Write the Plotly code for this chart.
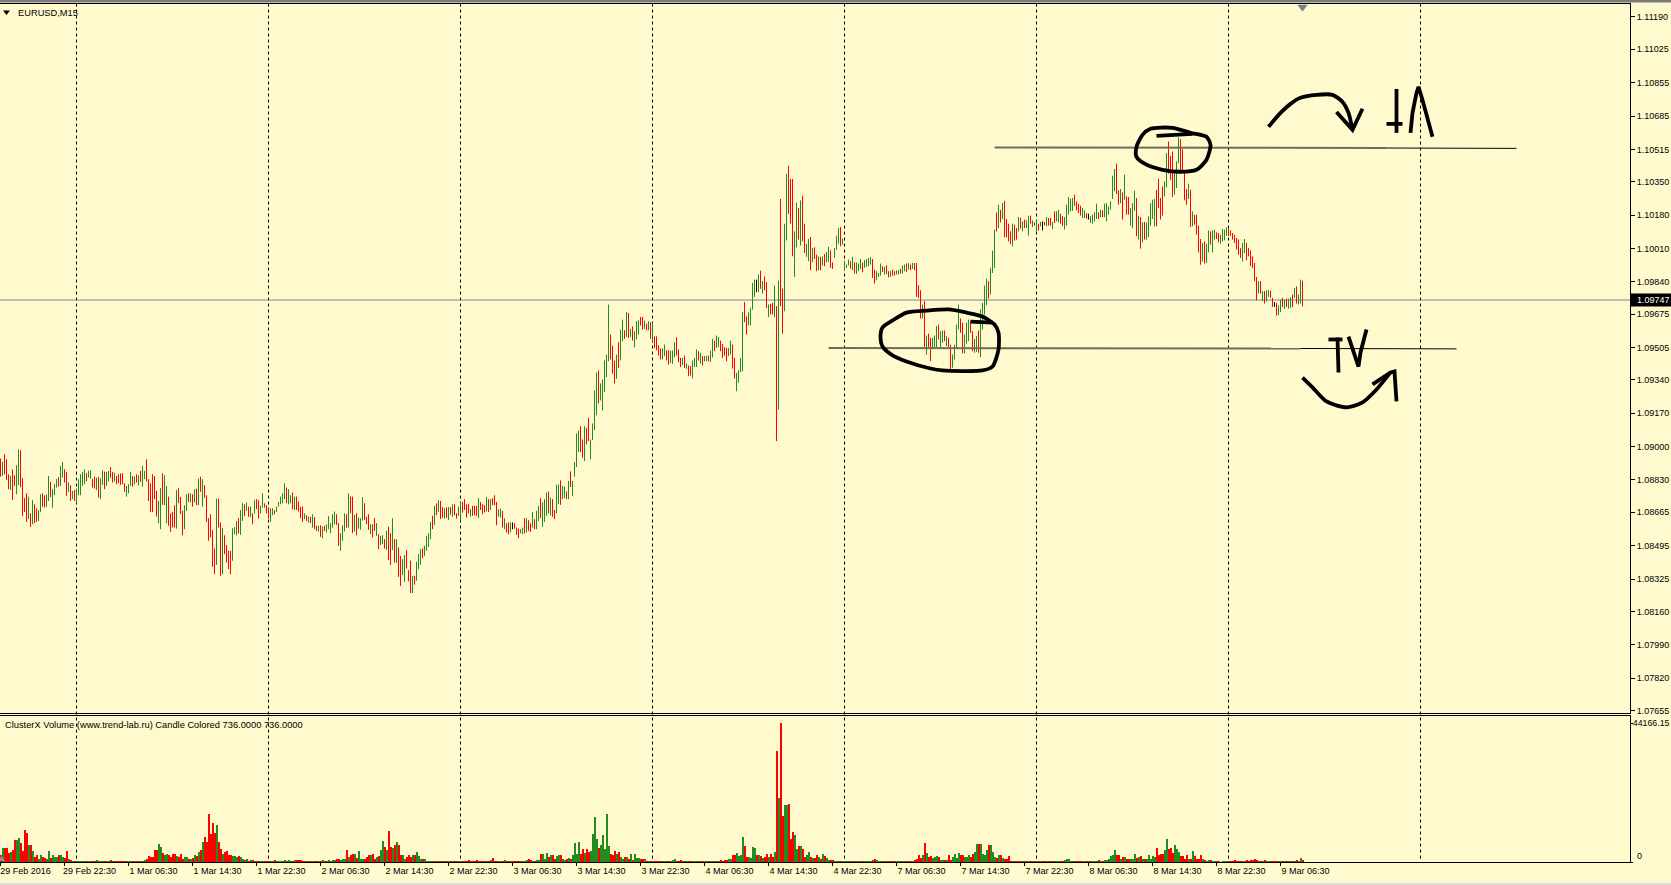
import plotly.graph_objects as go

# Bar highs / lows, in points above 1.07000 (EURUSD M15)
high_pts = [
1939,1922,1961,1935,1859,1850,1884,1854,1905,1986,1981,1839,1737,1762,1745,1660,1727,1706,1686,1676,
1757,1762,1752,1757,1850,1820,1783,1808,1834,1844,1901,1922,1884,1871,1817,1803,1774,1779,1786,1834,
1859,1871,1884,1864,1876,1879,1834,1847,1842,1845,1837,1879,1873,1871,1876,1896,1871,1867,1850,1859,
1864,1864,1813,1800,1808,1871,1850,1847,1859,1854,1876,1901,1876,1935,1834,1813,1859,1850,1774,1723,
1788,1864,1854,1800,1745,1660,1667,1701,1779,1788,1744,1672,1701,1757,1762,1762,1757,1783,1786,1837,
1847,1834,1803,1752,1635,1655,1574,1481,1735,1735,1613,1584,1548,1498,1469,1469,1584,1589,1620,1635,
1677,1711,1706,1715,1694,1694,1660,1727,1732,1727,1698,1762,1711,1701,1689,1686,1686,1676,1694,1718,
1745,1762,1813,1791,1783,1752,1766,1745,1745,1720,1693,1694,1660,1650,1643,1642,1655,1640,1596,1596,
1599,1593,1596,1604,1645,1610,1655,1669,1655,1610,1559,1599,1660,1655,1762,1745,1745,1652,1660,1638,
1635,1742,1711,1643,1655,1604,1604,1635,1610,1554,1545,1548,1528,1570,1591,1559,1635,1528,1528,1486,
1443,1426,1447,1472,1370,1418,1341,1341,1413,1452,1477,1481,1494,1545,1559,1616,1647,1698,1711,1727,
1723,1691,1686,1691,1692,1691,1706,1706,1660,1694,1723,1718,1732,1706,1706,1681,1698,1698,1698,1737,
1718,1706,1701,1743,1732,1732,1737,1752,1718,1681,1684,1672,1635,1609,1613,1613,1613,1609,1587,1582,
1579,1587,1635,1635,1625,1609,1667,1630,1672,1698,1737,1715,1732,1765,1771,1740,1732,1677,1805,1808,
1828,1799,1796,1771,1825,1874,1825,1922,2067,2082,2104,2036,2104,2096,2147,2036,2118,2286,2378,2388,
2322,2342,2439,2469,2724,2571,2515,2439,2469,2532,2596,2647,2593,2686,2681,2600,2613,2588,2639,2644,
2661,2661,2642,2627,2639,2634,2630,2562,2562,2517,2500,2500,2520,2491,2491,2489,2489,2532,2557,2495,
2452,2452,2464,2423,2413,2410,2439,2452,2495,2486,2478,2461,2461,2464,2464,2489,2549,2540,2566,2559,
2540,2523,2506,2503,2503,2540,2520,2452,2376,2389,2452,2685,2737,2664,2685,2708,2834,2851,2851,2877,
2897,2843,2868,2838,2724,2727,2732,2821,2716,2846,3262,2805,3136,3391,3432,3364,3364,3097,3242,3216,
3255,3279,3136,3034,3058,3068,3012,3016,2979,2970,2967,2970,2982,2992,3018,3000,2939,3012,3075,3114,
3119,3060,2948,2928,2953,2945,2967,2939,2939,2933,2956,2939,2950,2956,2962,2967,2956,2902,2894,2885,
2933,2919,2916,2924,2894,2894,2902,2894,2899,2899,2906,2923,2928,2933,2936,2928,2936,2936,2936,2822,
2797,2724,2741,2566,2576,2554,2554,2566,2614,2622,2588,2592,2592,2563,2554,2520,2469,2520,2622,2724,
2653,2631,2571,2631,2648,2639,2588,2549,2563,2592,2700,2732,2821,2856,2843,2911,2999,3106,3194,3233,
3207,3241,3253,3160,3136,3097,3136,3131,3114,3170,3167,3148,3157,3153,3177,3177,3153,3143,3153,3136,
3145,3148,3145,3170,3165,3165,3145,3199,3199,3207,3187,3174,3170,3233,3272,3263,3267,3284,3250,3238,
3228,3216,3204,3190,3187,3174,3182,3194,3238,3194,3207,3204,3238,3241,3224,3250,3381,3415,3442,3306,
3313,3296,3386,3275,3272,3216,3241,3304,3267,3177,3170,3143,3145,3143,3174,3241,3258,3262,3309,3365,
3267,3326,3352,3496,3555,3482,3504,3403,3454,3576,3567,3516,3403,3313,3340,3309,3199,3182,3182,3126,
3058,3038,3046,3034,3102,3097,3102,3106,3092,3089,3080,3109,3106,3118,3109,3102,3089,3080,3063,3055,
3012,3038,3058,3038,3012,3000,2970,2936,2865,2843,2843,2792,2792,2797,2797,2795,2758,2736,2732,2719,
2749,2758,2749,2754,2754,2761,2775,2809,2817,2775,2851,2846]

low_pts = [
1847,1850,1859,1830,1783,1779,1728,1800,1757,1803,1793,1647,1667,1616,1630,1591,1604,1610,1616,1621,
1667,1694,1689,1693,1723,1742,1688,1752,1791,1796,1800,1842,1817,1749,1769,1723,1732,1723,1711,1752,
1752,1800,1808,1823,1842,1837,1791,1786,1779,1740,1732,1805,1783,1800,1822,1842,1817,1822,1808,1813,
1805,1808,1769,1745,1762,1800,1796,1808,1817,1803,1820,1796,1834,1822,1723,1667,1667,1732,1643,1610,
1579,1703,1701,1610,1596,1565,1587,1587,1582,1711,1655,1548,1579,1672,1718,1715,1694,1715,1701,1701,
1769,1694,1740,1616,1520,1537,1387,1350,1397,1587,1341,1350,1452,1409,1375,1350,1418,1554,1548,1557,
1550,1621,1647,1672,1642,1642,1604,1659,1681,1633,1659,1689,1689,1660,1633,1616,1650,1655,1667,1694,
1706,1711,1732,1711,1706,1711,1681,1677,1677,1669,1635,1616,1630,1621,1613,1610,1587,1579,1570,1567,
1540,1533,1570,1562,1579,1559,1587,1604,1601,1494,1469,1520,1567,1587,1587,1660,1559,1567,1548,1582,
1576,1623,1626,1604,1576,1554,1537,1570,1545,1477,1498,1503,1481,1474,1421,1397,1472,1409,1406,1336,
1290,1345,1311,1379,1313,1253,1253,1296,1316,1375,1397,1431,1443,1469,1489,1528,1579,1601,1650,1667,
1630,1637,1633,1637,1625,1653,1642,1650,1633,1647,1621,1664,1677,1638,1660,1643,1647,1650,1647,1635,
1677,1655,1664,1669,1667,1677,1701,1701,1599,1643,1638,1587,1579,1562,1553,1562,1579,1582,1550,1533,
1558,1553,1558,1562,1570,1565,1587,1579,1579,1621,1635,1591,1616,1647,1660,1650,1642,1630,1660,1706,
1703,1732,1737,1732,1732,1794,1748,1847,1896,1972,1972,1943,1926,2011,2028,1935,2033,2084,2160,2220,
2235,2184,2277,2354,2435,2444,2372,2322,2345,2401,2439,2537,2549,2559,2554,2559,2540,2506,2546,2571,
2617,2596,2600,2593,2593,2549,2534,2503,2491,2464,2444,2444,2461,2439,2418,2427,2422,2455,2464,2430,
2405,2415,2401,2396,2359,2362,2347,2405,2406,2439,2423,2413,2435,2435,2434,2432,2454,2486,2503,2508,
2486,2452,2464,2435,2461,2469,2398,2347,2282,2325,2379,2384,2634,2571,2618,2618,2698,2763,2787,2787,
2804,2780,2797,2707,2660,2673,2673,2660,2028,2189,2716,2576,2690,3051,3187,3136,2970,2865,3016,3055,
3024,3046,2987,2967,2945,2899,2939,2956,2894,2899,2899,2923,2919,2939,2941,2911,2906,2962,3004,3034,
3021,3029,2899,2911,2923,2907,2899,2882,2880,2894,2906,2889,2911,2916,2919,2928,2860,2831,2848,2865,
2872,2890,2877,2880,2863,2865,2872,2872,2877,2877,2882,2882,2894,2889,2902,2899,2906,2899,2763,2758,
2653,2653,2508,2469,2508,2436,2503,2503,2503,2546,2503,2529,2537,2512,2508,2393,2402,2444,2503,2597,
2580,2475,2475,2525,2537,2580,2486,2478,2483,2478,2455,2597,2673,2721,2754,2775,2885,2910,3097,3114,
3143,3160,3067,3067,3046,3033,3021,3050,3055,3097,3111,3097,3114,3114,3075,3136,3119,3126,3097,3101,
3123,3102,3128,3123,3126,3126,3109,3140,3148,3143,3136,3123,3106,3126,3182,3199,3202,3228,3204,3190,
3177,3165,3165,3162,3157,3140,3136,3148,3160,3160,3170,3170,3170,3148,3182,3207,3262,3301,3287,3233,
3241,3157,3258,3182,3182,3126,3114,3202,3072,3055,3009,3041,3055,3055,3068,3126,3160,3123,3123,3216,
3157,3177,3275,3321,3391,3360,3272,3284,3318,3445,3403,3403,3255,3233,3262,3119,3123,3131,3080,2990,
2927,2944,2933,2936,2990,3029,2990,3055,3058,3041,3034,3046,3051,3075,3072,3075,3055,3038,3004,2978,
2961,2944,2987,2950,2970,2919,2910,2843,2746,2780,2780,2741,2729,2741,2763,2758,2712,2712,2668,2670,
2685,2712,2702,2712,2703,2707,2712,2758,2729,2724,2729,2715]

bar_colors = "".join([
"rgrrrgrrggrrrrgrgrrg","grrggrgggrggrrgrgrgg","gggrggrrgrggrggrrgrr","rrrgggrgrgrggrrrrrrg",
"grggrrrrgrrrggrgrgrg","rgrrrrrrgrrgrrrrgggr","ggrgrgrgrrggrrrggrgg","gggrggrgrrrrgrgrgrrg",
"rgrgggggrrgggrgrrgrg","ggrrrgrrgrggrgrrgrgr","rggrrrgrgggrggggrgrg","rrgrgrgrrggrrrrgrrrg",
"rrrgrgrrrggrgrrgkrrr","ggrgrrgrggrgggrgrrgg","rggrgrggggrrgrrggggr","gggggrrrgrggrgrgrggg",
"rrgrgrgrrrrggrrgggrr","rgrgrrgggrgrggrggrgg","rrrrggrrggggrrggggkg","rgrrgrrgrgrrggrrrggr",
"grrggrgrrgrgrggrrggg","rggggrgrgggrggggrrgg","grgrrgrrggrggrgrgrrr","rgrgrrgggrggrgrrgggg",
"rrgggrrggrggggrgggrg","rgrrrrgrrgrgrggrgrgr","gkrgrrgrggrrgggggrrr","rggrkggggrgrggggggrr",
"grgrrgggrgrgrgggggrr","rrggrrrgggrrrrgrgrrr","rgrggrggrrggggrrrrrr","rggrrrrrrgrgrggrrkrg",
"grgrggrgrggr"])

# Tick volume, in hundreds
volume_hundreds = [
21,43,43,43,28,32,37,69,69,75,61,34,101,93,53,53,34,16,21,11,
23,16,13,8,34,13,23,16,16,23,23,16,13,34,8,5,3,2,1,1,
3,1,2,3,2,2,3,3,5,3,3,2,2,3,3,4,2,1,2,3,
2,2,3,2,2,2,3,3,2,3,3,3,5,11,19,16,16,37,37,58,
48,30,23,27,23,15,27,27,19,16,27,11,16,16,11,8,13,21,19,32,
37,64,80,64,151,90,125,93,119,64,42,27,32,34,23,21,19,19,16,19,
16,8,5,8,3,5,7,1,2,2,3,2,2,3,1,2,3,5,3,3,
2,3,5,3,4,3,3,5,6,5,4,2,2,3,3,3,2,2,3,2,
3,4,2,3,5,3,4,5,8,11,5,8,8,37,16,23,27,27,13,34,
11,8,11,16,23,23,27,11,16,19,37,66,48,37,98,48,45,53,64,53,
23,23,11,16,21,16,21,21,32,19,8,8,8,3,3,1,1,2,1,1,
2,1,1,2,1,3,2,3,2,1,2,2,1,3,4,2,3,2,5,2,
2,3,3,2,2,4,13,2,3,3,2,3,5,3,2,2,2,3,2,2,
2,3,3,4,8,5,3,3,4,5,26,27,11,30,16,21,23,11,19,21,
21,8,5,11,13,11,21,61,27,64,27,42,30,42,32,34,90,143,74,45,
53,85,42,151,51,27,23,34,27,32,16,8,16,16,8,27,7,27,13,13,
11,8,8,3,3,1,1,2,1,2,1,2,3,2,3,2,5,8,3,3,
5,3,2,3,2,2,2,2,3,3,2,2,2,3,2,2,3,3,3,3,
5,3,4,6,8,11,23,21,30,19,21,81,51,16,16,13,48,45,21,21,
19,13,16,27,16,27,16,32,352,204,441,145,180,180,183,74,95,85,40,51,
51,42,16,21,32,16,13,13,21,16,11,25,19,13,6,5,5,3,1,2,
2,1,2,2,3,2,2,3,2,2,3,2,2,3,3,2,4,8,5,3,
2,2,3,2,3,2,3,3,2,2,3,2,3,2,2,3,3,5,11,23,
13,23,61,30,16,19,13,15,19,15,5,5,5,5,23,5,16,27,13,30,
23,23,16,16,23,15,27,32,58,58,58,27,23,37,53,55,32,16,13,21,
21,13,8,11,19,3,2,2,1,2,2,3,2,1,3,2,2,2,3,2,
2,3,2,2,3,3,2,3,2,3,2,3,4,8,8,3,2,2,3,2,
2,3,2,3,2,3,3,2,3,4,3,3,4,5,8,
19,23,37,21,21,11,16,16,8,11,11,11,27,13,16,19,8,8,11,23,
11,19,16,45,23,27,27,37,74,42,45,30,53,42,32,19,19,11,21,11,
11,34,19,11,8,21,8,5,2,5,7,3,3,2,2,0,1,1,1,2,
2,1,6,3,2,3,2,3,6,3,4,4,11,4,1,3,3,5,2,3,
3,2,2,3,3,3,2,2,2,3,3,3,3,4,3,14,7]

price_ticks = ["1.11190","1.11025","1.10855","1.10685","1.10515","1.10350","1.10180","1.10010",
               "1.09840","1.09675","1.09505","1.09340","1.09170","1.09000","1.08830","1.08665",
               "1.08495","1.08325","1.08160","1.07990","1.07820","1.07655"]
time_ticks = ["29 Feb 2016","29 Feb 22:30","1 Mar 06:30","1 Mar 14:30","1 Mar 22:30","2 Mar 06:30",
              "2 Mar 14:30","2 Mar 22:30","3 Mar 06:30","3 Mar 14:30","3 Mar 22:30","4 Mar 06:30",
              "4 Mar 14:30","4 Mar 22:30","7 Mar 06:30","7 Mar 14:30","7 Mar 22:30","8 Mar 06:30",
              "8 Mar 14:30","8 Mar 22:30","9 Mar 06:30"]
BARS_PER_TICK = 32
day_separators = [38, 134, 230, 326, 422, 518, 614, 710]
last_price = 1.09747
volume_max = 44166.15

# Hand-drawn marks, in (bar number, points above 1.07000), with a smoothed flag
strokes = [
 ([453,463,474,483,491,497,499,499,496,491,471,465,453,446,441,440,441,446,453],
  [2683,2693,2699,2683,2663,2622,2581,2495,2408,2388,2388,2398,2434,2465,2510,2556,2607,2643,2683], True),
 ([485,496],[2637,2632], False),
 ([575,586,595,603,605,603,598,590,581,573,568,568,571,575],
  [3620,3625,3599,3579,3538,3462,3411,3401,3411,3437,3477,3528,3589,3620], True),
 ([578,596],[3584,3594], False),
 ([634,640,645,650,658,666,671,674,676],[3630,3701,3747,3778,3793,3793,3757,3701,3615], True),
 ([668,676,681],[3706,3615,3722], False),
 ([698,698],[3823,3599], False),
 ([693,701],[3645,3645], False),
 ([705,706,708,709,711,714,716],[3599,3701,3803,3834,3767,3650,3579], False),
 ([664,671],[2546,2546], False),
 ([668.5,669],[2556,2378], False),
 ([674,676,679,680,682,683],[2561,2495,2408,2480,2556,2597], False),
 ([651,656,663,673,681,688,695],[2352,2302,2230,2200,2225,2291,2378], True),
 ([686,695,697,698],[2317,2378,2383,2230], False),
]
level_high = ([497,693,758],[3525,3522,3520])
level_low = ([414,650,728],[2502,2500,2498])

W, H = 1671, 885
L_R, T, B = 1630, 4, 862      # plot-area right, top, bottom in page pixels
MAIN_B, SUB_T = 713, 716
PH = B - T
FONT = "Liberation Sans"
TXT = "#000000"

def price(p):
    return 1.07 + p / 100000

colour_map = {"r": "#FF0000", "g": "#228B22", "k": "#000000"}
n = len(high_pts)
idx = list(range(n))
vols = [v * 100 for v in volume_hundreds]
vol_cols = [("#FF0000" if c == "k" else colour_map[c]) for c in bar_colors[:n]]

fig = go.Figure()
# high-low bars, one line trace per colour
for key, colour in colour_map.items():
    xs, ys = [], []
    for i, h, l, c in zip(idx, high_pts, low_pts, bar_colors):
        if c == key:
            xs += [i, i, None]
            ys += [price(l), price(h), None]
    fig.add_trace(go.Scatter(x=xs, y=ys, mode="lines", xaxis="x", yaxis="y",
                             line=dict(color=colour, width=1), showlegend=False, hoverinfo="skip"))
m = min(n, len(vols))
fig.add_trace(go.Bar(x=idx[:m], y=vols[:m], width=1,
                     marker=dict(color=vol_cols[:m], line=dict(width=0)), xaxis="x2", yaxis="y2",
                     showlegend=False, hoverinfo="skip"))

def line_trace(xs, ys, color, width, smooth=False):
    fig.add_trace(go.Scatter(x=xs, y=[price(v) for v in ys], mode="lines", xaxis="x", yaxis="y",
                             line=dict(color=color, width=width, shape="spline" if smooth else "linear",
                                       smoothing=0.7 if smooth else None),
                             showlegend=False, hoverinfo="skip"))

for xs, ys in (level_high, level_low):
    line_trace(xs[:2], ys[:2], "#6f6d58", 2)
    line_trace(xs[1:], ys[1:], "#000000", 1)
for xs, ys, smooth in strokes:
    line_trace(xs, ys, "#000000", 3.8, smooth)

# chart-shift marker and the small title/indicator markers
fig.add_trace(go.Scatter(x=[651], y=[price(4241)], mode="markers", xaxis="x", yaxis="y", cliponaxis=False,
                         marker=dict(symbol="triangle-down", size=9, color="#708090"),
                         showlegend=False, hoverinfo="skip"))
fig.add_trace(go.Scatter(x=[3], y=[price(4215)], mode="markers", xaxis="x", yaxis="y",
                         marker=dict(symbol="triangle-down", size=6, color="#000000"),
                         showlegend=False, hoverinfo="skip"))
fig.add_trace(go.Scatter(x=[0.5], y=[900], mode="markers", xaxis="x2", yaxis="y2",
                         marker=dict(symbol="triangle-up", size=7, color="#8c8c8c"),
                         showlegend=False, hoverinfo="skip"))

shapes = []
for d in day_separators:
    shapes.append(dict(type="line", xref="x", yref="paper", x0=d, x1=d, y0=0.004, y1=1, layer="below",
                       line=dict(color="#000000", width=1, dash="3px,3px")))
shapes.append(dict(type="line", xref="paper", yref="y", x0=0, x1=1, y0=last_price, y1=last_price,
                   layer="below", line=dict(color="#778899", width=1)))
shapes.append(dict(type="rect", xref="paper", yref="paper", x0=0, x1=W / L_R,
                   y0=(B - 0) / PH, y1=(B - 2.6) / PH, layer="below",
                   fillcolor="#7a7a7a", line=dict(width=0)))
shapes.append(dict(type="rect", xref="paper", yref="paper", x0=0, x1=W / L_R,
                   y0=(B - 883) / PH, y1=(B - 885) / PH, layer="below",
                   fillcolor="#dcdcdc", line=dict(width=0)))
shapes.append(dict(type="rect", xref="paper", yref="paper", x0=1631 / L_R, x1=W / L_R,
                   y0=(B - 306.5) / PH, y1=(B - 293.5) / PH, layer="above",
                   fillcolor="#000000", line=dict(width=0)))

annots = [
    dict(text="EURUSD,M15", xref="paper", yref="paper", x=15.5 / L_R, y=(B - 12.5) / PH, showarrow=False,
         xanchor="left", yanchor="middle", font=dict(family=FONT, size=9.3, color=TXT)),
    dict(text="ClusterX Volume (www.trend-lab.ru) Candle Colored 736.0000 736.0000", xref="paper",
         yref="paper", x=3 / L_R, y=(B - 724.5) / PH, showarrow=False, xanchor="left", yanchor="middle",
         font=dict(family=FONT, size=9.3, color=TXT)),
    dict(text="%.5f" % last_price, xref="paper", yref="y", x=1635 / L_R, y=last_price, showarrow=False,
         xanchor="left", yanchor="middle",
         font=dict(family=FONT, size=9, color="#FFFFFF")),
    dict(text="0", xref="paper", yref="y2", x=1635 / L_R, y=0, yshift=6, showarrow=False,
         xanchor="left", yanchor="middle", font=dict(family=FONT, size=9, color=TXT)),
]

axis_common = dict(showgrid=False, zeroline=False, linecolor="#000000", linewidth=1, showline=True,
                   automargin=False)
tf = dict(family=FONT, size=9, color=TXT)

fig.update_layout(
    width=W, height=H, autosize=False,
    margin=dict(l=0, r=W - L_R, t=T, b=H - B, pad=0),
    paper_bgcolor="#FFFACD", plot_bgcolor="#FFFACD",
    barmode="overlay", showlegend=False, bargap=0,
    shapes=shapes, annotations=annots,
    xaxis=dict(range=[-0.25, 814.75], anchor="y", domain=[0, 1], mirror=True, ticks="",
               showticklabels=False, **axis_common),
    xaxis2=dict(range=[-0.25, 814.75], anchor="y2", domain=[0, 1], matches="x", mirror=True,
                tickmode="array", tickvals=[i * BARS_PER_TICK for i in range(len(time_ticks))],
                ticktext=time_ticks, ticks="outside", ticklen=3, tickcolor="#000000",
                tickfont=tf, ticklabelshift=25, ticklabelstandoff=-3, **axis_common),
    yaxis=dict(range=[1.07642, 1.11256], anchor="x", side="right",
               domain=[(B - MAIN_B) / PH, 1], tickmode="array",
               tickvals=[float(t) for t in price_ticks], ticktext=price_ticks,
               ticks="outside", ticklen=4, tickcolor="#000000", tickfont=tf, **axis_common),
    yaxis2=dict(range=[0, volume_max * 146 / 139], anchor="x2", side="right",
                domain=[0, (B - SUB_T) / PH], tickmode="array",
                tickvals=[0, volume_max], ticktext=["", "%.2f" % volume_max],
                ticks="outside", ticklen=2, tickcolor="#000000", ticklabelstandoff=-2,
                tickfont=dict(family=FONT, size=8.8, color=TXT), **axis_common),
)

fig.write_html("out.html", config={"displayModeBar": False},
               post_script="document.body.style.margin='0';document.body.style.overflow='hidden';")
